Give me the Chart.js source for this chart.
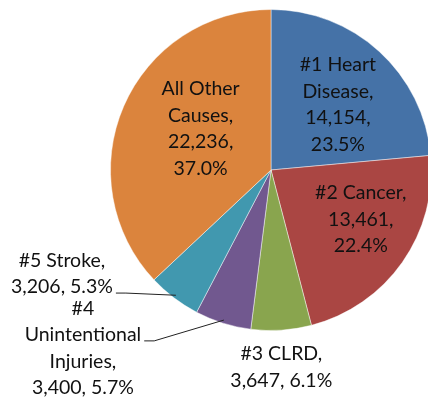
<!DOCTYPE html>
<html>
<head>
<meta charset="utf-8">
<script src="https://cdn.jsdelivr.net/npm/chart.js@4/dist/chart.umd.min.js"></script>
<style>
  html, body { margin: 0; padding: 0; background: #fff; overflow: hidden; }
  #wrap { width: 428px; height: 404px; overflow: hidden; }
</style>
</head>
<body>
<div id="wrap"><canvas id="myChart" width="450" height="404"></canvas></div>
<script>
// Chart values
var categories = ['#1 Heart Disease', '#2 Cancer', '#3 CLRD', '#4 Unintentional Injuries', '#5 Stroke', 'All Other Causes'];
var deaths = [14154, 13461, 3647, 3400, 3206, 22236];
var sliceColors = ['#4572A7', '#AA4643', '#89A54E', '#71588F', '#4198AF', '#DB843D'];

// label placement: rf = fraction of radius along mid angle, dx/dy nudge, wrap = max line width
var labelLayout = [
  { rf: 0.6, dx: 2, dy: 6, wrap: 80 },
  { rf: 0.6, dx: 11, dy: -6, wrap: 100 },
  { rf: 1.0, dx: 0, dy: 37, wrap: 110 },
  { rf: 1.0, dx: -140, dy: 25, wrap: 112, leader: 1 },
  { rf: 1.0, dx: -112, dy: -24, wrap: 110, leader: 1 },
  { rf: 0.6, dx: 18, dy: -3, wrap: 80 }
];
var labelFont = '19.5px Lato';
var lineHeight = 26.5;

var total = deaths.reduce(function(a, b) { return a + b; }, 0);

function wrapText(ctx, text, maxWidth) {
  var words = text.split(' ');
  var lines = [];
  var cur = '';
  words.forEach(function(w) {
    var test = cur ? cur + ' ' + w : w;
    if (cur && ctx.measureText(test).width > maxWidth) {
      lines.push(cur);
      cur = w;
    } else {
      cur = test;
    }
  });
  if (cur) lines.push(cur);
  return lines;
}

var sliceLabels = {
  id: 'sliceLabels',
  afterDatasetsDraw: function(chart) {
    var ctx = chart.ctx;
    var meta = chart.getDatasetMeta(0);
    ctx.save();
    ctx.font = labelFont;
    ctx.fillStyle = '#111';
    ctx.textAlign = 'center';
    ctx.textBaseline = 'middle';
    meta.data.forEach(function(arc, i) {
      var p = arc.getProps(['x', 'y', 'startAngle', 'endAngle', 'outerRadius'], true);
      var mid = (p.startAngle + p.endAngle) / 2;
      var lay = labelLayout[i];
      var cx = p.x + Math.cos(mid) * p.outerRadius * lay.rf + lay.dx;
      var cy = p.y + Math.sin(mid) * p.outerRadius * lay.rf + lay.dy;
      var pct = (deaths[i] / total * 100).toFixed(1) + '%';
      var text = categories[i] + ', ' + deaths[i].toLocaleString('en-US') + ', ' + pct;
      var lines = wrapText(ctx, text, lay.wrap);
      var top = cy - (lines.length - 1) * lineHeight / 2;
      lines.forEach(function(line, k) {
        ctx.fillText(line, cx, top + k * lineHeight);
      });
      if (lay.leader !== undefined) {
        var ln = lines[lay.leader];
        var lx = cx + ctx.measureText(ln).width / 2 + 3;
        var ly = top + lay.leader * lineHeight + 6;
        var ex = p.x + Math.cos(mid) * p.outerRadius * 0.98;
        var ey = p.y + Math.sin(mid) * p.outerRadius * 0.98;
        ctx.beginPath();
        ctx.strokeStyle = '#222';
        ctx.lineWidth = 1;
        ctx.moveTo(lx, ly);
        ctx.lineTo(lx + 10, ly);
        ctx.lineTo(ex, ey);
        ctx.stroke();
      }
    });
    ctx.restore();
  }
};

var myChart = new Chart(document.getElementById('myChart'), {
  type: 'pie',
  data: {
    labels: categories,
    datasets: [{
      data: deaths,
      backgroundColor: sliceColors,
      borderColor: 'rgba(255,255,255,0.45)',
      borderWidth: 1
    }]
  },
  options: {
    responsive: false,
    animation: false,
    devicePixelRatio: 1,
    layout: { padding: { left: 110, right: 18, top: 9, bottom: 73 } },
    plugins: {
      legend: { display: false },
      tooltip: { enabled: false }
    }
  },
  plugins: [sliceLabels]
});
</script>
</body>
</html>
